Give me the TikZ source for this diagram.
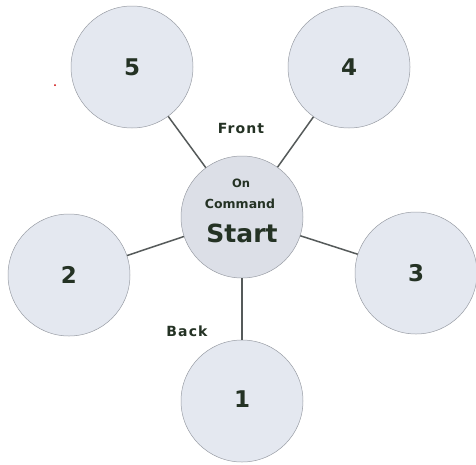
\documentclass[tikz,border=0pt]{standalone}
\usepackage{fontspec}
\setmainfont{DejaVu Sans}
\definecolor{cfill}{HTML}{E4E8F0}
\definecolor{ccfill}{HTML}{DCDFE7}
\definecolor{cedge}{HTML}{9A9EA6}
\definecolor{lnk}{HTML}{555A5A}
\definecolor{txt}{HTML}{243224}
\begin{document}
\begin{tikzpicture}[x=1pt,y=-1pt,
  bubble/.style={circle,minimum size=122pt,inner sep=0pt,fill=cfill,draw=cedge,line width=0.5pt,
    font=\fontsize{23}{23}\selectfont\bfseries,text=txt},
  hub/.style={bubble,fill=ccfill},
  link/.style={draw=lnk,line width=1.5pt},
  lbl/.style={font=\fontsize{14}{14}\selectfont\bfseries\addfontfeature{LetterSpace=8},text=txt}]
\useasboundingbox (0,0) rectangle (476,464);
\fill[white] (0,0) rectangle (476,464);
\node[hub] (c) at (242,217) {};
\node[bubble] (n5) at (132,67) {\raisebox{-3pt}{5}};
\node[bubble] (n4) at (349,67) {\raisebox{-3pt}{4}};
\node[bubble] (n2) at (69,275) {\raisebox{-1pt}{2}};
\node[bubble] (n3) at (416,273) {3};
\node[bubble] (n1) at (242,401) {\raisebox{3pt}{1}};
\draw[link] (c) -- (n5);
\draw[link] (c) -- (n4);
\draw[link] (c) -- (n2);
\draw[link] (c) -- (n3);
\draw[link] (c) -- (n1);
\node[font=\fontsize{11.5}{11.5}\selectfont\bfseries,text=txt] (on) at (241,183) {On};
\node[font=\fontsize{12.5}{12.5}\selectfont\bfseries,text=txt] (cmd) at (240,204) {Command};
\node[font=\fontsize{25}{25}\selectfont\bfseries,text=txt] (start) at (242,233) {Start};
\node[lbl] (front) at (241,128) {Front};
\node[lbl] (back) at (187,331) {Back};
\fill[red!80!black] (55,85) circle (1pt);
\end{tikzpicture}
\end{document}
